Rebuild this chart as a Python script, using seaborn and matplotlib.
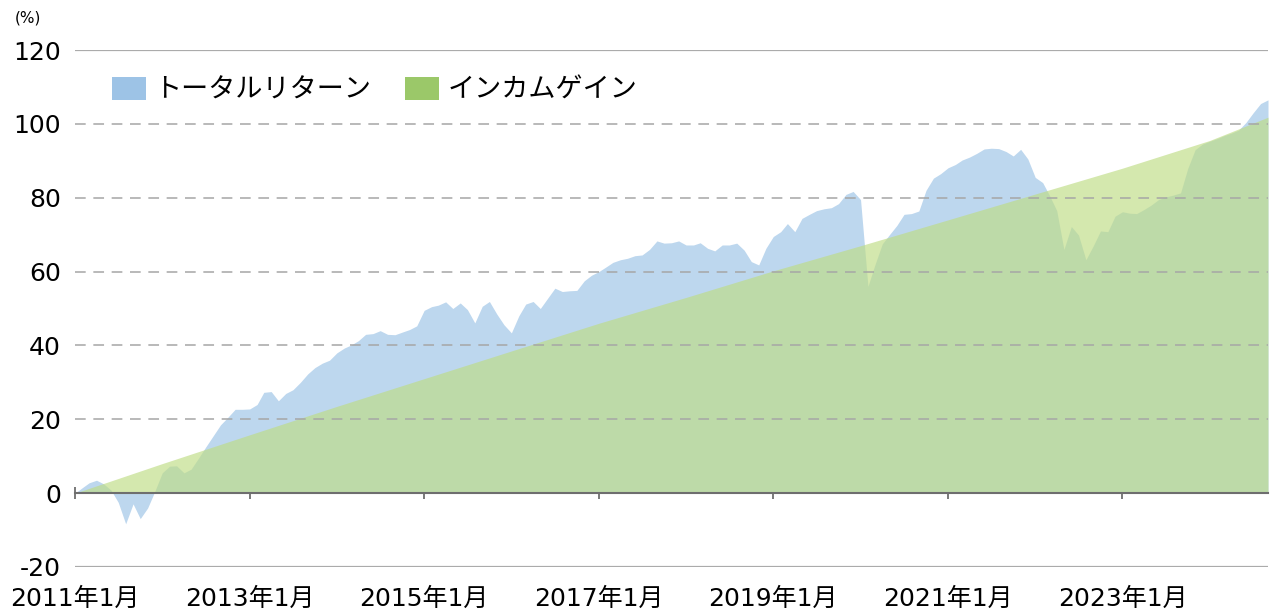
import matplotlib
matplotlib.use("Agg")
import matplotlib.pyplot as plt
from matplotlib.patches import Patch
import numpy as np
import pandas as pd
import seaborn as sns

# monthly total return, 2011-01 .. 2024-09 (%)
total_return = [
    0.0, 1.5, 2.8, 3.5, 2.5, 0.8, -2.5, -8.3, -2.9, -6.9, -4.0, 0.5,
    5.5, 7.3, 7.4, 5.5, 6.5, 9.5, 12.5, 15.5, 18.5, 20.5, 22.7, 22.7,
    22.8, 24.0, 27.3, 27.5, 25.0, 27.0, 28.0, 30.0, 32.3, 34.0, 35.2, 36.0,
    38.0, 39.3, 40.1, 41.3, 43.0, 43.2, 44.0, 43.0, 42.9, 43.6, 44.3, 45.3,
    49.5, 50.5, 50.9, 51.8, 50.0, 51.5, 49.7, 46.1, 50.6, 51.9, 48.5, 45.6,
    43.4, 48.0, 51.2, 51.9, 50.0, 52.8, 55.5, 54.6, 54.8, 54.9, 57.5, 59.0,
    60.0, 61.3, 62.5, 63.2, 63.6, 64.3, 64.5, 66.0, 68.3, 67.7, 67.8, 68.3,
    67.2, 67.2, 67.8, 66.3, 65.6, 67.2, 67.2, 67.7, 65.8, 62.7, 61.8, 66.3,
    69.5, 70.8, 73.0, 70.8, 74.4, 75.5, 76.5, 77.0, 77.3, 78.4, 80.9, 81.7,
    79.5, 56.0, 61.8, 67.5, 70.0, 72.5, 75.5, 75.7, 76.4, 82.0, 85.3, 86.5,
    88.1, 89.0, 90.2, 91.0, 92.0, 93.2, 93.4, 93.3, 92.5, 91.3, 93.1, 90.5,
    85.5, 84.1, 80.7, 76.5, 66.0, 72.2, 69.9, 63.2, 67.0, 71.0, 70.8, 75.0,
    76.2, 75.8, 75.7, 76.8, 78.0, 79.5, 80.2, 80.7, 81.3, 87.9, 93.0, 94.5,
    95.3, 96.0, 96.8, 97.5, 98.3, 100.4, 103.0, 105.5, 106.5,
]
total_dates = pd.date_range("2011-01-01", periods=len(total_return), freq="MS")

# income gain, read at each January plus the last month
income_dates = pd.to_datetime([
    "2011-01-01", "2012-01-01", "2013-01-01", "2014-01-01", "2015-01-01",
    "2016-01-01", "2017-01-01", "2018-01-01", "2019-01-01", "2020-01-01",
    "2021-01-01", "2022-01-01", "2023-01-01", "2024-01-01", "2024-09-01",
])
income_gain = [0.0, 8.0, 15.8, 23.5, 31.0, 38.5, 46.0, 53.0, 60.2, 67.0,
               74.0, 81.0, 88.0, 95.5, 101.8]

tick_years = [2011, 2013, 2015, 2017, 2019, 2021, 2023]
tick_labels = [f"{y}年1月" for y in tick_years]
y_ticks = [-20, 0, 20, 40, 60, 80, 100, 120]

sns.set_theme(style="white")
# DejaVu for the digits (Verdana-like), Noto CJK for kana/kanji
plt.rcParams["font.family"] = ["DejaVu Sans", "Noto Sans CJK JP"]
plt.rcParams["text.color"] = "black"
plt.rcParams["xtick.labelcolor"] = "black"
plt.rcParams["ytick.labelcolor"] = "black"

fig = plt.figure(figsize=(12.73, 6.14), dpi=100)
ax = fig.add_axes([75 / 1273, 1 - 567 / 614, (1268 - 75) / 1273, (567 - 50) / 614])

blue_fill = "#BDD7EE"
green_fill = "#BEDC84"

ax.fill_between(total_dates, 0, total_return, color=blue_fill, lw=0, zorder=1)
ax.fill_between(income_dates, 0, income_gain, color=green_fill, alpha=0.66,
                lw=0, zorder=2)

# grid lines
for y in y_ticks:
    if y == 0:
        continue
    if y in (120, -20):
        ax.axhline(y, color="#ABABAB", lw=1.6, zorder=3)
    else:
        ax.axhline(y, color="#A6A6A6", lw=1.1, ls=(0, (7, 5)), zorder=3)

ax.set_xlim(total_dates[0], total_dates[-1])
ax.set_ylim(-20, 120)
ax.set_yticks(y_ticks)
ax.set_yticklabels([str(v) for v in y_ticks], fontsize=18)

for s in ["top", "right", "left"]:
    ax.spines[s].set_visible(False)
ax.spines["bottom"].set_position(("data", 0))
ax.spines["bottom"].set_color("#6E6E6E")
ax.spines["bottom"].set_linewidth(1.5)
ax.spines["bottom"].set_zorder(4)

ax.set_xticks([pd.Timestamp(f"{y}-01-01") for y in tick_years])
ax.set_xticklabels(tick_labels, fontsize=18)
ax.tick_params(axis="x", direction="inout", length=9, width=1.3,
               color="#6E6E6E", labelcolor="black", pad=63, bottom=True)
ax.tick_params(axis="y", length=0, pad=10, labelcolor="black")

fig.text(15 / 1273, 1 - 18 / 614, "(%)", fontsize=11, va="center", ha="left",
         color="black")

handles = [Patch(facecolor="#9DC3E6", edgecolor="none"),
           Patch(facecolor="#9BC869", edgecolor="none")]
leg = fig.legend(handles, ["トータルリターン", "インカムゲイン"], loc="upper left",
                 bbox_to_anchor=(112 / 1273, 1 - 77 / 614), ncol=2, frameon=False,
                 prop={"family": "Noto Sans CJK JP", "size": 19.5},
                 handlelength=1.26, handleheight=0.93,
                 handletextpad=0.3, columnspacing=1.25, borderpad=0,
                 borderaxespad=0)
for t in leg.get_texts():
    t.set_color("black")

fig.savefig("out.png", dpi=100)
